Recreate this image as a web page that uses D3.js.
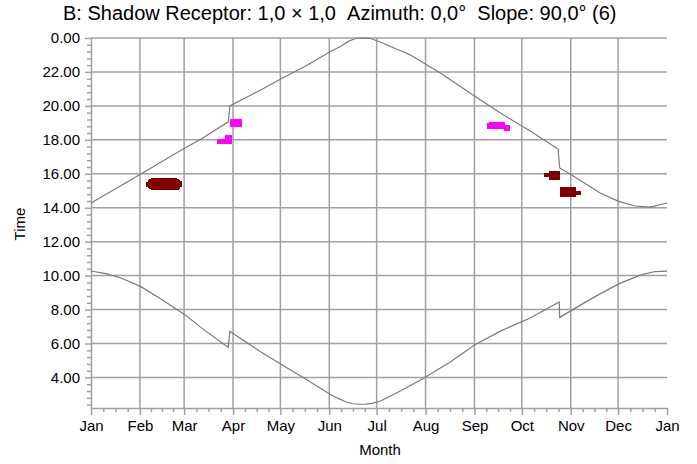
<!DOCTYPE html>
<html><head><meta charset="utf-8">
<script src="https://cdn.jsdelivr.net/npm/d3@7"></script>
<style>
body{margin:0;background:#fff}
svg{display:block;font-family:"Liberation Sans",Arial,sans-serif}
</style>
</head><body>
<svg id="chart" width="697" height="464"></svg>
<script>
// ---- data ----
const titleText = "B: Shadow Receptor: 1,0 \u00d7 1,0\u00a0\u00a0Azimuth: 0,0\u00b0\u00a0\u00a0Slope: 90,0\u00b0 (6)";
const monthLabels = ["Jan","Feb","Mar","Apr","May","Jun","Jul","Aug","Sep","Oct","Nov","Dec","Jan"];
const monthStartDays = [0,31,59,90,120,151,181,212,243,273,304,334,365];
const hourTicks = [24,22,20,18,16,14,12,10,8,6,4];

// upper time curve (day of year, hour)
const upperDays  = [0,31.6,59.5,69.6,87,88,107.5,120.8,136,151.2,158,163,167.6,172,177,183,189.8,202.4,221.4,243,259.4,278.3,296,297,303.6,322.6,334,344.8,354.3,365];
const upperHours = [14.28,15.99,17.52,18.03,19.06,20.0,20.94,21.61,22.35,23.17,23.5,23.8,23.97,24.0,23.97,23.78,23.5,23.0,21.94,20.58,19.58,18.52,17.46,16.34,15.99,14.87,14.39,14.10,14.04,14.28];

// lower time curve (day of year, hour)
const lowerDays  = [0,9.5,19,31.6,44.3,59.5,69.6,87,88,107.5,120.2,136,151.2,157,161.3,165.7,170,174,178,183.5,196,208.8,227.7,243,259.4,278.3,296.7,297,316.3,334,348,357.4,365];
const lowerHours = [10.27,10.12,9.86,9.35,8.62,7.70,6.95,5.77,6.72,5.51,4.79,3.91,3.02,2.75,2.57,2.45,2.42,2.43,2.47,2.61,3.20,3.85,4.91,5.91,6.73,7.50,8.44,7.54,8.60,9.50,10.03,10.24,10.27];

// shadow periods: one entry per day (source 0 = dark red, 1 = magenta)
const shadowDay  = [35,36,37,38,39,40,41,42,43,44,45,46,47,48,49,50,51,52,53,54,55,56,
                    80,81,82,83,84,85,86,87,88,
                    88,89,90,91,92,93,94,
                    251,252,253,254,255,256,257,258,259,260,261,262,263,264,
                    287,288,289,290,291,292,293,294,295,296,
                    297,298,299,300,301,302,303,304,305,306,307,308,309];
const shadowFrom = [15.24,15.14,15.08,15.04,15.04,15.04,15.04,15.04,15.04,15.04,15.04,15.04,15.04,15.04,15.04,15.04,15.04,15.04,15.04,15.06,15.12,15.20,
                    17.75,17.75,17.75,17.75,17.75,17.75,17.75,17.75,17.75,
                    18.74,18.74,18.74,18.74,18.74,18.74,18.74,
                    18.66,18.62,18.62,18.62,18.62,18.62,18.62,18.62,18.62,18.62,18.62,18.54,18.54,18.54,
                    15.79,15.79,15.79,15.63,15.63,15.63,15.63,15.63,15.63,15.63,
                    14.61,14.61,14.61,14.61,14.61,14.61,14.61,14.61,14.61,14.61,14.75,14.75,14.75];
const shadowTo   = [15.53,15.63,15.70,15.75,15.75,15.75,15.75,15.75,15.75,15.75,15.75,15.75,15.75,15.75,15.75,15.75,15.75,15.75,15.75,15.72,15.66,15.58,
                    18.03,18.03,18.03,18.03,18.03,18.30,18.30,18.30,18.30,
                    19.21,19.21,19.21,19.21,19.21,19.21,19.21,
                    18.98,19.05,19.05,19.05,19.05,19.05,19.05,19.05,19.05,19.05,19.05,18.87,18.87,18.87,
                    16.03,16.03,16.03,16.18,16.18,16.18,16.18,16.18,16.18,16.18,
                    15.20,15.20,15.20,15.20,15.20,15.20,15.20,15.20,15.20,15.20,15.00,15.00,15.00];
const shadowSource = [0,0,0,0,0,0,0,0,0,0,0,0,0,0,0,0,0,0,0,0,0,0,
                      1,1,1,1,1,1,1,1,1,
                      1,1,1,1,1,1,1,
                      1,1,1,1,1,1,1,1,1,1,1,1,1,1,
                      0,0,0,0,0,0,0,0,0,0,
                      0,0,0,0,0,0,0,0,0,0,0,0,0];

// ---- drawing ----
const svg = d3.select("#chart");
const gridColor = "#a0a0a0", axisColor = "#a0a0a0", curveColor = "#7a7a7a";

const x = d3.scaleLinear().domain([0, 365]).range([91, 667]);
const y = d3.scaleLinear().domain([2.2, 24]).range([408, 38]);
const color = d3.scaleOrdinal().domain([0, 1]).range(["#800000", "#ff00ff"]);

// title
svg.append("text").attr("x", 63).attr("y", 20)
  .attr("font-size", 20).attr("fill", "#000").text(titleText);

// gridlines
svg.append("g").selectAll("line").data(hourTicks).join("line")
  .attr("x1", x(0)).attr("x2", x(365))
  .attr("y1", d => y(d)).attr("y2", d => y(d))
  .attr("stroke", gridColor).attr("stroke-width", 1.5);
svg.append("g").selectAll("line").data(monthStartDays.slice(1, 12)).join("line")
  .attr("x1", d => x(d)).attr("x2", d => x(d))
  .attr("y1", y(24)).attr("y2", y(2.2))
  .attr("stroke", gridColor).attr("stroke-width", 1.5);

// minor ticks
const minorX = [];
for (let i = 0; i < 12; i++) {
  const a = monthStartDays[i], b = monthStartDays[i + 1];
  for (let k = 1; k < 4; k++) minorX.push(a + (b - a) * k / 4);
}
const minorY = [];
for (let h = 2.4; h < 24; h += 0.4) {
  if (Math.abs(h / 2 - Math.round(h / 2)) > 0.01) minorY.push(h);
}

function styleAxis(g) {
  g.select(".domain").attr("stroke", axisColor).attr("stroke-width", 1.5);
  g.selectAll(".tick line").attr("stroke", axisColor).attr("stroke-width", 1.5);
  g.selectAll(".tick text").attr("fill", "#000");
}

svg.append("g").attr("transform", `translate(0,${y(2.2)})`)
  .call(d3.axisBottom(x).tickValues(minorX).tickSize(4).tickFormat("").tickSizeOuter(0))
  .call(styleAxis).call(g => g.select(".domain").remove());
svg.append("g").attr("transform", `translate(${x(0)},0)`)
  .call(d3.axisLeft(y).tickValues(minorY).tickSize(4).tickFormat("").tickSizeOuter(0))
  .call(styleAxis).call(g => g.select(".domain").remove());

// main axes
const xAxis = svg.append("g").attr("transform", `translate(0,${y(2.2)})`)
  .call(d3.axisBottom(x).tickValues(monthStartDays).tickSize(7).tickSizeOuter(0)
    .tickPadding(5).tickFormat((d, i) => monthLabels[i]))
  .call(styleAxis);
xAxis.selectAll(".tick text").attr("font-size", 15).attr("font-family", "Liberation Sans, Arial, sans-serif");

const yAxis = svg.append("g").attr("transform", `translate(${x(0)},0)`)
  .call(d3.axisLeft(y).tickValues(hourTicks).tickSize(6).tickSizeOuter(0)
    .tickPadding(5).tickFormat(d => (d % 24).toFixed(2)))
  .call(styleAxis);
yAxis.selectAll(".tick text").attr("font-size", 15).attr("font-family", "Liberation Sans, Arial, sans-serif");

// axis titles
svg.append("text").attr("x", 380).attr("y", 455).attr("text-anchor", "middle")
  .attr("font-size", 15).text("Month");
svg.append("text").attr("transform", "translate(25,224) rotate(-90)")
  .attr("text-anchor", "middle").attr("font-size", 15).text("Time");

// curves
const line = d3.line().x(d => x(d[0])).y(d => y(d[1]));
svg.append("g").attr("clip-path", null)
  .selectAll("path").data([d3.zip(upperDays, upperHours), d3.zip(lowerDays, lowerHours)]).join("path")
  .attr("d", line).attr("fill", "none").attr("stroke", curveColor).attr("stroke-width", 1.2);

// shadow marks
const shadows = shadowDay.map((d, i) => ({d, from: shadowFrom[i], to: shadowTo[i], s: shadowSource[i]}));
svg.append("g").attr("shape-rendering", "crispEdges")
  .selectAll("rect").data(shadows).join("rect")
  .attr("x", s => x(s.d)).attr("width", s => x(s.d + 1) - x(s.d) + 0.8)
  .attr("y", s => y(s.to)).attr("height", s => y(s.from) - y(s.to))
  .attr("fill", s => color(s.s));
</script>
</body></html>
